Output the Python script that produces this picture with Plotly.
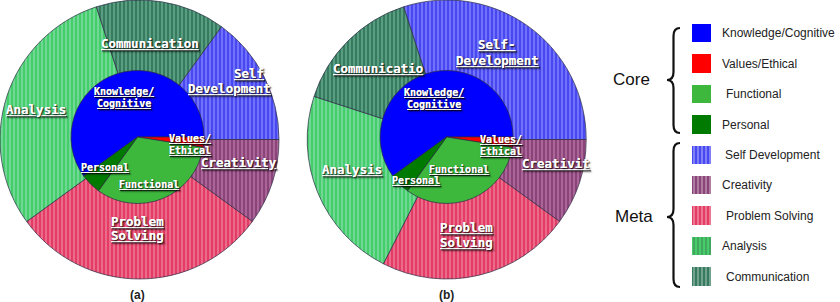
import plotly.graph_objects as go

W, H = 840, 302

# ---------------- data ----------------
core_labels = ["Knowledge/Cognitive", "Values/Ethical", "Functional", "Personal"]
core_a = [24, 1, 13, 2]
core_b = [24, 1, 13, 2]

meta_labels = ["Self Development", "Creativity", "Problem Solving", "Analysis", "Communication"]
meta_a = [6, 4, 12, 12, 6]
meta_b = [12, 4, 9, 9, 6]

legend_labels = core_labels + meta_labels
group_labels = ["Core", "Meta"]
panel_labels = ["(a)", "(b)"]

# ---------------- styles ----------------
core_colors = ["#0000ff", "#ff0000", "#3db83d", "#007a00"]
meta_bg = ["#4848f2", "#8a4478", "#e43c64", "#44ce6a", "#367b5f"]
meta_fg = ["#8c8cff", "#c27cb0", "#f08aa6", "#90deb4", "#72b698"]
edge = dict(color="#2b2b45", width=0.7)


def px_x(x):
    return x / W


def px_y(y):
    return 1 - y / H


def dom(cx, cy, r):
    return dict(x=[px_x(cx - r), px_x(cx + r)], y=[px_y(cy + r), px_y(cy - r)])


def rot_first_ends_at_3(values):
    # first slice (clockwise) ends at 3 o'clock
    return 90 - 360 * values[0] / sum(values)


fig = go.Figure()

panels = [
    dict(outer=meta_a, inner=core_a, oc=(139.5, 139.5), orad=139.5, ic=(137.5, 137.0)),
    dict(outer=meta_b, inner=core_b, oc=(446.7, 139.5), orad=139.5, ic=(446.6, 137.0)),
]
IR = 66.5

for p in panels:
    fig.add_trace(go.Pie(
        values=p["outer"], labels=meta_labels, sort=False, direction="clockwise",
        rotation=rot_first_ends_at_3(p["outer"]), textinfo="none",
        marker=dict(colors=meta_bg, line=edge,
                    pattern=dict(shape=["|"] * 5, fgcolor=meta_fg, bgcolor=meta_bg,
                                 size=4, solidity=0.3, fillmode="replace")),
        domain=dom(p["oc"][0], p["oc"][1], p["orad"]), showlegend=False))
    fig.add_trace(go.Pie(
        values=p["inner"], labels=core_labels, sort=False, direction="clockwise",
        rotation=rot_first_ends_at_3(p["inner"]), textinfo="none",
        marker=dict(colors=core_colors, line=edge),
        domain=dom(p["ic"][0], p["ic"][1], IR), showlegend=False))

# ---------------- legend swatches (bar trace) ----------------
n = len(legend_labels)
sw_top, sw_step = 33.3, 30.4
fig.add_trace(go.Bar(
    x=[1] * n, y=list(range(n)), orientation="h", width=0.6,
    marker=dict(color=core_colors + meta_bg, line=dict(width=0),
                pattern=dict(shape=[""] * 4 + ["|"] * 5,
                             fgcolor=core_colors + meta_fg,
                             bgcolor=core_colors + meta_bg,
                             size=4, solidity=0.3)),
    showlegend=False, hoverinfo="skip"))
fig.update_xaxes(domain=[px_x(692), px_x(711)], range=[0, 1], visible=False)
fig.update_yaxes(domain=[px_y(sw_top + (n - 0.5) * sw_step), px_y(sw_top - 0.5 * sw_step)],
                 range=[n - 0.5, -0.5], visible=False)

ann = []
leg_x = [720, 720, 724, 720, 723, 720, 724, 720, 724]
for i, lab in enumerate(legend_labels):
    ann.append(dict(text=lab, x=px_x(leg_x[i]), xref="paper", y=i, yref="y",
                    xanchor="left", yanchor="middle", showarrow=False,
                    font=dict(family="Liberation Sans, Arial", size=12, color="#222")))

for lab, cx, cy in zip(group_labels, [631, 633.5], [79, 216]):
    ann.append(dict(text=lab, x=px_x(cx), y=px_y(cy), xref="paper", yref="paper",
                    xanchor="center", yanchor="middle", showarrow=False,
                    font=dict(family="Liberation Sans, Arial", size=17, color="#111")))

for lab, cx in zip(panel_labels, [137, 446.7]):
    ann.append(dict(text=lab, x=px_x(cx), y=px_y(295), xref="paper", yref="paper",
                    xanchor="center", yanchor="middle", showarrow=False,
                    font=dict(family="Liberation Sans, Arial", size=12, color="#222", weight="bold")))

# ---------------- slice labels ----------------
# (text, x, y, anchor, size)
slice_text = [
    ("Communication", 149.7, 43.3, "center", 12.5),
    ("Self", 233.0, 73.3, "left", 12.5),
    ("Development", 186.5, 88.3, "left", 12.5),
    ("Analysis", 35.5, 109.3, "center", 12.5),
    ("Creativity", 238.5, 162.3, "center", 12.5),
    ("Problem", 137.0, 221.7, "center", 12.5),
    ("Solving", 137.0, 235.5, "center", 12.5),
    ("Knowledge/", 124.3, 91.7, "center", 10),
    ("Cognitive", 124.3, 103.3, "center", 10),
    ("Values/", 168.2, 138.3, "left", 10),
    ("Ethical", 168.2, 150.0, "left", 10),
    ("Personal", 104.7, 167.3, "center", 10),
    ("Functional", 148.8, 184.0, "center", 10),
    ("Communicatio", 377.8, 69.0, "center", 12.5),
    ("Self-", 496.7, 45.0, "center", 12.5),
    ("Development", 497.0, 60.0, "center", 12.5),
    ("Analysis", 351.7, 169.3, "center", 12.5),
    ("Creativit", 521.2, 163.3, "left", 12.5),
    ("Problem", 466.3, 227.7, "center", 12.5),
    ("Solving", 466.3, 242.7, "center", 12.5),
    ("Knowledge/", 434.3, 92.7, "center", 10),
    ("Cognitive", 434.3, 104.3, "center", 10),
    ("Values/", 478.5, 139.0, "left", 10),
    ("Ethical", 478.5, 151.0, "left", 10),
    ("Functional", 458.8, 169.0, "center", 10),
    ("Personal", 415.5, 181.0, "center", 10),
]
for t, x, y, anc, sz in slice_text:
    ann.append(dict(text=t, x=px_x(x), y=px_y(y), xref="paper", yref="paper",
                    xanchor=anc, yanchor="middle", showarrow=False, borderpad=0,
                    font=dict(family="DejaVu Sans Mono", size=sz, color="white", weight="bold",
                              lineposition="under", shadow="1px 1px 1.5px rgba(0,0,0,0.6)")))


# ---------------- braces ----------------
def brace(y_top, y_bot, y_tip, x_tip=667, x_mid=673.5, x_end=680, r=8):
    def P(x, y):
        return f"{px_x(x):.5f},{px_y(y):.5f}"
    return ("M " + P(x_end, y_top) + " Q " + P(x_mid, y_top) + " " + P(x_mid, y_top + r) +
            " L " + P(x_mid, y_tip - r) + " Q " + P(x_mid, y_tip) + " " + P(x_tip, y_tip) +
            " Q " + P(x_mid, y_tip) + " " + P(x_mid, y_tip + r) +
            " L " + P(x_mid, y_bot - r) + " Q " + P(x_mid, y_bot) + " " + P(x_end, y_bot))


shapes = [
    dict(type="path", xref="paper", yref="paper", path=brace(28, 133, 80),
         line=dict(color="#111", width=2.2)),
    dict(type="path", xref="paper", yref="paper", path=brace(143, 287, 217),
         line=dict(color="#111", width=2.2)),
]

fig.update_layout(
    width=W, height=H, margin=dict(l=0, r=0, t=0, b=0, pad=0, autoexpand=False),
    paper_bgcolor="white", plot_bgcolor="white",
    annotations=ann, shapes=shapes, showlegend=False, bargap=0,
)

fig.write_html("out.html")
